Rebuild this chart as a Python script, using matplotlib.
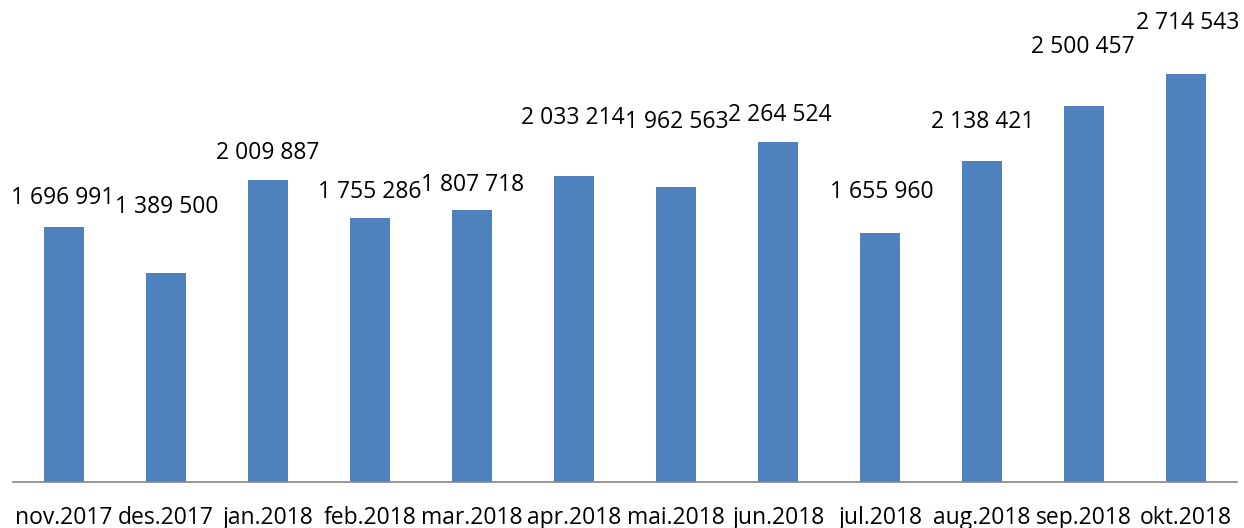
import matplotlib
matplotlib.use("Agg")
import matplotlib.pyplot as plt

months = ["nov.2017", "des.2017", "jan.2018", "feb.2018", "mar.2018", "apr.2018",
          "mai.2018", "jun.2018", "jul.2018", "aug.2018", "sep.2018", "okt.2018"]
values = [1696991, 1389500, 2009887, 1755286, 1807718, 2033214,
          1962563, 2264524, 1655960, 2138421, 2500457, 2714543]

# label offsets above the bar top (pixels), as placed in the original
label_dx = [-1, 1, 0, 0, 1, -1, 1, 2, 2, 1, -1, 2]
label_dy = [29, 66, 27, 26, 25, 58, 65, 27, 41, 39, 59, 51]

plt.rcParams['font.family'] = ['Open Sans', 'DejaVu Sans']

fig = plt.figure(figsize=(12.44, 5.28), dpi=100)
ax = fig.add_axes([13 / 1244, 46 / 528, 1224 / 1244, 482 / 528])

x = list(range(len(values)))
ax.bar(x, values, width=0.4, color="#4F81BD")

for i, v in enumerate(values):
    txt = f"{v:,}".replace(",", " ")
    ax.annotate(txt, (i, v), xytext=(label_dx[i], label_dy[i]),
                textcoords="offset pixels", ha="center", va="center",
                fontsize=16.5, color="black")

ax.set_xlim(-0.5, len(values) - 0.5)
ax.set_ylim(0, 482 * 6653)
ax.set_xticks(x)
ax.set_xticklabels(months, fontsize=16.5)
ax.tick_params(axis="x", length=0, pad=17)
ax.set_yticks([])
for s in ["top", "right", "left"]:
    ax.spines[s].set_visible(False)
ax.spines["bottom"].set_color("#868686")
ax.spines["bottom"].set_linewidth(1.2)

fig.savefig("out.png", dpi=100)
